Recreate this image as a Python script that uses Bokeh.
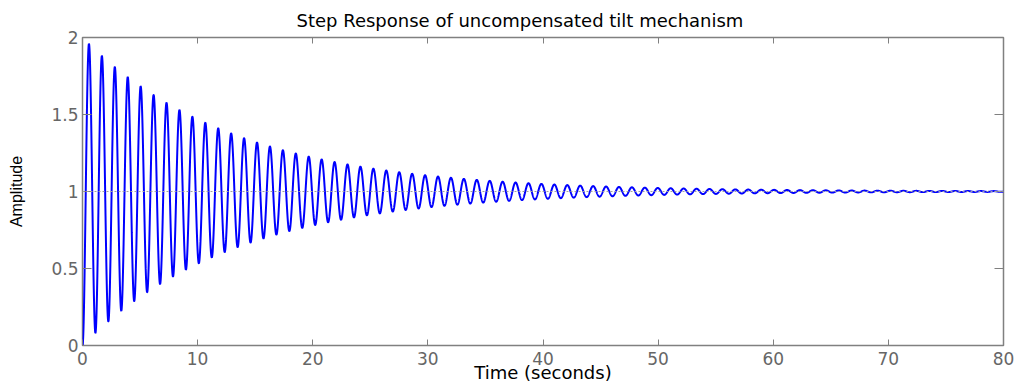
import numpy as np
from bokeh.plotting import figure
from bokeh.models import Range1d, LinearAxis, FixedTicker, Span
from bokeh.embed import file_html
from bokeh.resources import INLINE

# ---- data ----
title_text = "Step Response of uncompensated tilt mechanism"
x_label = "Time (seconds)"
y_label = "Amplitude"
x_ticks = [0, 10, 20, 30, 40, 50, 60, 70, 80]
y_ticks = [0, 0.5, 1, 1.5, 2]
y_tick_labels = ["0", "0.5", "1", "1.5", "2"]
t_final = 80.0
steady_state = 1.0
# second-order system identified from the plot (first peak ~1.96 at t~0.56 s,
# oscillation period ~1.12 s, decay ratio ~0.92 per period)
damping_ratio = 0.0135
natural_freq = 5.596  # rad/s

time_s = np.linspace(0.0, t_final, 8001)
wd = natural_freq * np.sqrt(1 - damping_ratio ** 2)
phi = np.arccos(damping_ratio)
amplitude = steady_state * (1 - np.exp(-damping_ratio * natural_freq * time_s)
                            / np.sqrt(1 - damping_ratio ** 2) * np.sin(wd * time_s + phi))

GRAY = "#808080"
TICK_TXT = "#666666"

p = figure(width=1020, height=386, output_backend="svg", toolbar_location=None,
           x_range=Range1d(0, t_final), y_range=Range1d(0, 2),
           min_border_left=82, min_border_right=17, min_border_top=37, min_border_bottom=41)
p.background_fill_color = "white"
p.border_fill_color = "white"
p.outline_line_color = GRAY
p.outline_line_width = 1.5
p.xgrid.visible = False
p.ygrid.visible = False

xa = p.below[0]
xa.ticker = FixedTicker(ticks=x_ticks)
xa.axis_label = x_label
xa.axis_line_color = None
xa.major_tick_in = 6
xa.major_tick_out = 0
xa.major_tick_line_color = GRAY
xa.minor_tick_line_color = None
xa.major_label_text_font = "DejaVu Sans"
xa.major_label_text_font_size = "17px"
xa.major_label_text_color = TICK_TXT
xa.major_label_standoff = 6
xa.axis_label_text_font = "DejaVu Sans"
xa.axis_label_text_font_size = "18px"
xa.axis_label_text_font_style = "normal"
xa.axis_label_text_color = "black"
xa.axis_label_standoff = -6

ya = p.left[0]
ya.ticker = FixedTicker(ticks=y_ticks)
ya.major_label_overrides = {t: s for t, s in zip(y_ticks, y_tick_labels)}
ya.axis_label = y_label
ya.axis_line_color = None
ya.major_tick_in = 9
ya.major_tick_out = 0
ya.major_tick_line_color = GRAY
ya.minor_tick_line_color = None
ya.major_label_text_font = "DejaVu Sans"
ya.major_label_text_font_size = "17px"
ya.major_label_text_color = TICK_TXT
ya.major_label_standoff = 4
ya.axis_label_text_font = "Liberation Sans"
ya.axis_label_text_font_size = "16px"
ya.axis_label_text_font_style = "normal"
ya.axis_label_text_color = "black"
ya.axis_label_standoff = 23

top = LinearAxis(ticker=FixedTicker(ticks=x_ticks), major_label_text_font_size="1px",
                 major_label_text_color=None,
                 major_label_standoff=0, major_tick_in=6, major_tick_out=0,
                 minor_tick_line_color=None, axis_line_color=None,
                 major_tick_line_color=GRAY)
p.add_layout(top, "above")
right = LinearAxis(ticker=FixedTicker(ticks=y_ticks), major_label_text_font_size="1px",
                   major_label_text_color=None,
                   major_label_standoff=0, major_tick_in=9, major_tick_out=0,
                   minor_tick_line_color=None, axis_line_color=None,
                   major_tick_line_color=GRAY)
p.add_layout(right, "right")

p.title.text = title_text
p.title.text_font = "DejaVu Sans"
p.title.text_font_size = "18px"
p.title.text_font_style = "normal"
p.title.text_color = "black"
p.title.align = "left"
p.title.offset = 214
p.title.standoff = 14

p.add_layout(Span(location=steady_state, dimension="width", line_color="#a0a0a0",
                  line_dash="2 2", line_width=1))
p.line(time_s, amplitude, line_color="#0000ff", line_width=2)

open("out.html", "w").write(file_html(p, INLINE))
